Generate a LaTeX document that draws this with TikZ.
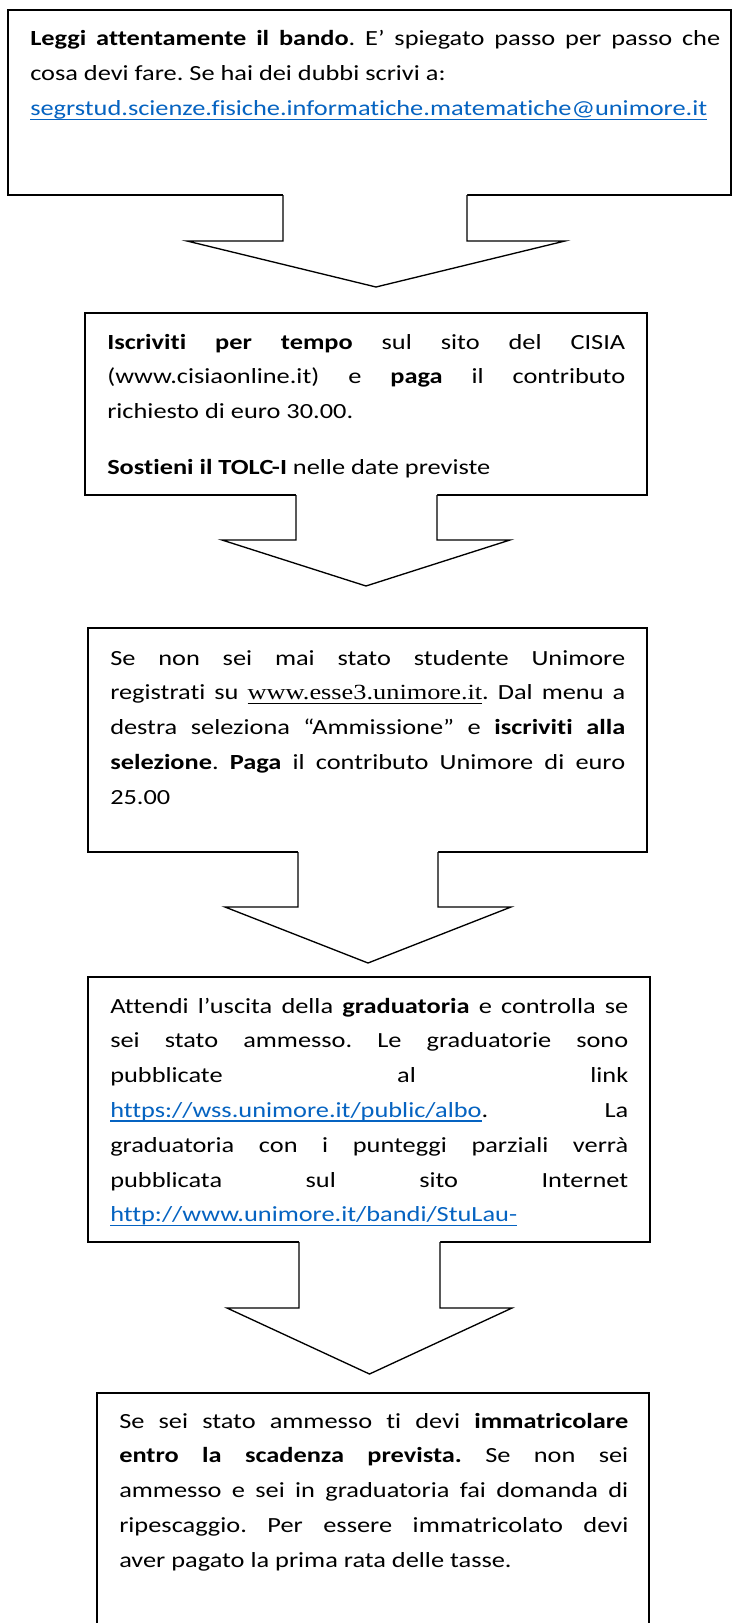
\documentclass[tikz,border=0pt]{standalone}
\usepackage{fontspec}
\setmainfont{Carlito}[FakeStretch=1.22, Ligatures=NoCommon]
\newfontfamily\timesf{Liberation Serif}[FakeStretch=1.22, Ligatures=NoCommon]
\usetikzlibrary{fit}
\definecolor{linkblue}{HTML}{0563C1}
\newcommand\jl[1]{\makebox[\linewidth][s]{#1}}
\newcommand\lnk[1]{\textcolor{linkblue}{\setbox0\hbox{#1}\rlap{\rule[-3.5pt]{\wd0}{1.2pt}}\box0}}
\newcommand\esse[1]{{\timesf\setbox0\hbox{#1}\rlap{\rule[-3.2pt]{\wd0}{1pt}}\box0}}
\newcommand\blockarr[7]{%
  \fill[white] (#1,#3-2) -- (#1,#4) -- (#5,#4) -- ({(#5+#6)/2},#7) -- (#6,#4) -- (#2,#4) -- (#2,#3-2) -- cycle;
  \draw[arr] (#1,#3) -- (#1,#4) -- (#5,#4) -- ({(#5+#6)/2},#7) -- (#6,#4) -- (#2,#4) -- (#2,#3);}
\begin{document}
\begin{tikzpicture}[x=0.75pt,y=-0.75pt,
  boxst/.style={draw=black, fill=white, line width=1pt, inner sep=0pt},
  arr/.style={draw=black, line width=1pt, line join=miter},
  txt/.style={anchor=base west, inner sep=0pt, font=\fontsize{16.2}{26.1}\selectfont\frenchspacing}]
\fill[white] (0,0) rectangle (732,1623);
\useasboundingbox (0,0) rectangle (732,1623);

\node[boxst, fit={(8,10) (731,195)}] (b1) {};
\node[boxst, fit={(85,313) (647,495)}] (b2) {};
\node[boxst, fit={(88,628) (647,852)}] (b3) {};
\node[boxst, fit={(88,977) (650,1242)}] (b4) {};
\node[boxst, fit={(97,1393) (649,1632)}] (b5) {};

\blockarr{283}{467}{195}{241}{187}{565}{287}
\blockarr{296}{437}{495}{540}{222}{510}{586}
\blockarr{298}{438}{852}{907}{225}{511}{963}
\blockarr{299}{440}{1242}{1308}{227}{512}{1374}

\node[txt] (t1) at (30,46) {\parbox[t]{517.5pt}{%
\jl{\textbf{Leggi attentamente il bando}. E’ spiegato passo per passo che}\\
cosa devi fare. Se hai dei dubbi scrivi a:\\
\lnk{segrstud.scienze.fisiche.informatiche.matematiche@unimore.it}}};

\node[txt] (t2) at (107,349) {\parbox[t]{388.5pt}{%
\jl{\textbf{Iscriviti per tempo} sul sito del CISIA}\\
\jl{(www.cisiaonline.it) e \textbf{paga} il contributo}\\
richiesto di euro 30.00.\\[16pt]
\textbf{Sostieni il TOLC-I} nelle date previste}};

\node[txt] (t3) at (110,665) {\parbox[t]{386.25pt}{%
\jl{Se non sei mai stato studente Unimore}\\
\jl{registrati su \esse{www.esse3.unimore.it}. Dal menu a}\\
\jl{destra seleziona “Ammissione” e \textbf{iscriviti alla}}\\
\jl{\textbf{selezione}. \textbf{Paga} il contributo Unimore di euro}\\
25.00}};

\node[txt] (t4) at (110,1013) {\parbox[t]{388.5pt}{%
\jl{Attendi l’uscita della \textbf{graduatoria} e controlla se}\\
\jl{sei stato ammesso. Le graduatorie sono}\\
\jl{pubblicate al link}\\
\jl{\lnk{https://wss.unimore.it/public/albo}. La}\\
\jl{graduatoria con i punteggi parziali verrà}\\
\jl{pubblicata sul sito Internet}\\
\lnk{http://www.unimore.it/bandi/StuLau-}}};

\node[txt] (t5) at (119,1428) {\parbox[t]{381.75pt}{%
\jl{Se sei stato ammesso ti devi \textbf{immatricolare}}\\
\jl{\textbf{entro la scadenza prevista.} Se non sei}\\
\jl{ammesso e sei in graduatoria fai domanda di}\\
\jl{ripescaggio. Per essere immatricolato devi}\\
aver pagato la prima rata delle tasse.}};
\end{tikzpicture}
\end{document}
